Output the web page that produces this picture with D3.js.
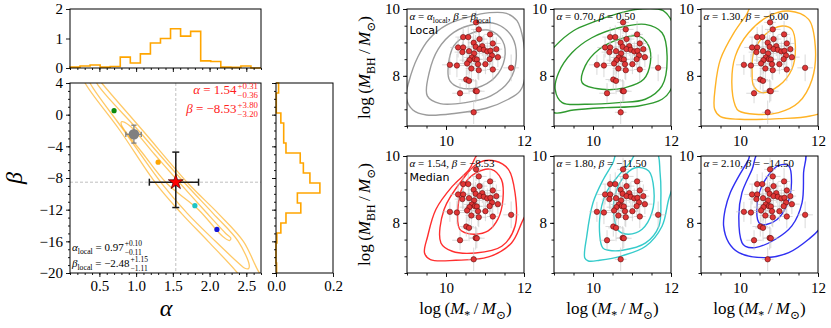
<!DOCTYPE html>
<html>
<head>
<meta charset="utf-8">
<script src="https://cdn.jsdelivr.net/npm/d3@7"></script>
<style>
  body { margin: 0; background: #fff; }
  svg { display: block; }
  svg text { font-family: "Liberation Serif", "DejaVu Serif", serif; }
</style>
</head>
<body>
<div id="chart"></div>
<script>
// ---- values ----

// marginal posteriors (step histograms, density)
const alphaRange = [0.1, 2.7];
const alphaHist = [0.03, 0.07, 0.10, 0.03, 0.05, 0.37, 0.17, 0.48, 0.85, 1.00, 1.33, 1.08, 1.24, 0.24, 0.22, 0.03, 0.02, 0.07, 0.00];
const betaRange = [-20, 4];
// from beta = -20 upwards
const betaHist = [0.002, 0.0, 0.0, 0.003, 0.017, 0.035, 0.087, 0.075, 0.154, 0.119, 0.096, 0.085, 0.035, 0.027, 0.027, 0.017, 0.001, 0.001, 0.009];

// models: local, four trial pairs and the median
const modelAlpha = [0.97, 0.70, 1.30, 1.54, 1.80, 2.10];
const modelBeta = [-2.48, 0.50, -6.00, -8.53, -11.50, -14.50];
const dotColors = ['#808080', '#0b8a0b', '#ffa500', '#ff0000', '#1fc4c4', '#1515d8'];
const lineColors = ['#9c9c9c', '#2f9a2f', '#ffb326', '#ff2e2e', '#35cbcb', '#2f2ff2'];
const modelTags = ['Local', '', '', 'Median', '', ''];

const localAlphaErr = [0.11, 0.10];   // [minus, plus]
const localBetaErr = [1.11, 1.15];
const medianAlphaErr = [0.36, 0.31];
const medianBetaErr = [3.20, 3.80];

// 2D posterior contours in the alpha-beta plane [alpha, beta]
const abInner = [[0.80, -0.9], [0.90, -1.3], [1.25, -5.0], [1.60, -8.7], [1.95, -12.3], [2.22, -15.0], [2.29, -15.6],
  [2.27, -15.9], [2.18, -15.4], [1.85, -12.0], [1.42, -8.7], [1.10, -5.0], [0.80, -1.3]];
const abMiddle = [[0.34, 5.0], [0.373, 4.0], [0.834, -2.0], [1.35, -8.7], [1.70, -12.5], [2.08, -16.0], [2.40, -18.8], [2.48, -19.4],
  [2.53, -19.45], [2.54, -19.0], [2.39, -16.0], [2.05, -12.5], [1.667, -8.7], [1.032, -2.0], [0.464, 4.0], [0.44, 5.0]];
const abOuter = [[0.22, 6.0], [0.305, 4.0], [0.78, -2.0], [1.27, -8.7], [1.62, -12.5], [1.98, -16.0], [2.38, -20.0], [2.45, -21.0],
  [2.78, -21.0], [2.68, -20.0], [2.46, -16.0], [2.12, -12.5], [1.71, -8.7], [1.09, -2.0], [0.532, 4.0], [0.45, 5.0]];

// observed sample: log M*, log MBH and their errors
const obsMstar = [10.77, 10.84, 11.13, 10.44, 10.57, 10.86, 10.71, 11.20, 10.31, 10.44, 10.76, 10.93, 10.86, 10.59, 10.42, 10.97, 11.06, 11.29, 11.14, 10.72, 11.18,
  11.33, 10.66, 11.12, 10.74, 10.60, 10.79, 10.54, 10.82, 11.01, 10.10, 10.28, 10.65, 10.84, 11.20, 10.52, 10.59, 10.76, 10.79, 10.36, 10.71, 11.67];
const obsMbh = [9.60, 9.39, 9.24, 9.16, 9.16, 9.10, 8.99, 8.97, 8.85, 8.85, 8.87, 8.89, 8.80, 8.74, 8.71, 8.78, 8.73, 8.80, 8.75, 8.67, 8.61,
  8.56, 8.55, 8.50, 8.50, 8.47, 8.49, 8.37, 8.35, 8.35, 8.33, 8.31, 8.22, 8.17, 8.19, 7.89, 7.85, 7.55, 7.54, 7.48, 6.91, 8.24];
const obsMstarErr = [0.15, 0.2, 0.15, 0.2, 0.15, 0.2, 0.15, 0.2, 0.2, 0.15, 0.25, 0.2, 0.15, 0.2, 0.2, 0.15, 0.2, 0.15, 0.25, 0.2, 0.15,
  0.2, 0.2, 0.15, 0.2, 0.25, 0.15, 0.2, 0.2, 0.15, 0.2, 0.2, 0.15, 0.2, 0.15, 0.2, 0.2, 0.15, 0.2, 0.2, 0.15, 0.2];
const obsMbhErr = [0.35, 0.3, 0.4, 0.3, 0.35, 0.3, 0.4, 0.35, 0.3, 0.45, 0.35, 0.3, 0.4, 0.35, 0.3, 0.45, 0.3, 0.35, 0.4, 0.3, 0.35,
  0.3, 0.4, 0.3, 0.35, 0.4, 0.3, 0.35, 0.45, 0.3, 0.3, 0.35, 0.4, 0.3, 0.35, 0.3, 0.4, 0.35, 0.3, 0.3, 0.35, 0.4];

// mock-population contours per panel [log M*, log MBH], inner to outer
const localContours = [
  [[10.05, 8.15], [10.2, 8.9], [10.6, 9.25], [11.1, 9.37], [11.45, 9.05], [11.5, 8.5], [11.25, 7.95], [10.8, 7.65], [10.35, 7.65], [10.1, 7.85]],
  [[9.52, 7.4], [9.57, 8.1], [9.8, 8.8], [10.2, 9.3], [10.75, 9.55], [11.3, 9.55], [11.7, 9.15], [11.8, 8.5], [11.62, 7.85], [11.15, 7.4], [10.5, 7.2], [9.85, 7.17]],
  [[9.05, 7.83], [9.28, 8.57], [9.58, 9.12], [10.01, 9.52], [10.61, 9.77], [11.12, 9.89], [11.55, 9.87], [11.82, 9.65], [11.99, 9.0], [12.03, 8.0],
    [11.9, 7.55], [11.6, 7.3], [11.03, 7.03], [10.26, 6.88], [9.5, 6.83], [9.15, 6.98], [8.98, 7.35]]
];
const greenContours = [
  [[9.72, 7.80], [9.80, 8.30], [10.15, 8.79], [10.66, 9.09], [11.17, 9.19], [11.43, 8.89], [11.47, 8.39], [11.30, 7.90], [10.83, 7.65], [10.23, 7.60]],
  [[9.03, 7.60], [9.12, 8.10], [9.46, 8.69], [9.97, 9.14], [10.66, 9.44], [11.34, 9.54], [11.77, 9.29], [11.90, 8.59], [11.77, 7.70], [11.34, 7.30],
    [10.66, 7.20], [9.80, 7.15], [9.21, 7.20]],
  [[8.85, 8.6], [9.03, 8.89], [9.5, 9.35], [9.97, 9.59], [10.57, 9.84], [11.2, 10.0], [11.8, 9.95], [12.1, 9.4], [12.15, 8.4], [12.0, 7.6], [11.77, 7.30],
    [11.17, 7.10], [10.32, 7.05], [9.5, 6.98], [9.0, 6.9], [8.8, 7.3]]
];
const orangeContours = [
  [[10.31, 8.10], [10.35, 8.69], [10.65, 9.24], [11.08, 9.49], [11.33, 9.39], [11.42, 8.89], [11.33, 8.20], [10.99, 7.70], [10.56, 7.50], [10.35, 7.70]],
  [[9.88, 7.10], [9.79, 7.80], [9.88, 8.59], [10.22, 9.29], [10.74, 9.79], [11.25, 9.94], [11.76, 9.69], [11.93, 8.89], [11.85, 7.90], [11.50, 7.20],
    [10.99, 6.90], [10.39, 6.85], [9.97, 6.95]],
  [[9.35, 7.0], [9.37, 7.7], [9.5, 8.5], [9.85, 9.3], [10.15, 9.8], [10.35, 10.15], [12.2, 10.15], [12.2, 7.0], [11.8, 6.8], [11.0, 6.72], [10.0, 6.7], [9.5, 6.78]]
];
const medianContours = [
  [[10.35, 7.81], [10.31, 8.50], [10.44, 9.10], [10.78, 9.50], [11.16, 9.60], [11.42, 9.30], [11.46, 8.70], [11.33, 8.11], [11.08, 7.76], [10.74, 7.66], [10.48, 7.71]],
  [[9.87, 7.40], [9.95, 8.40], [10.42, 9.29], [10.84, 9.8], [11.26, 9.85], [11.60, 9.6], [11.77, 8.90], [11.77, 7.90], [11.43, 7.30], [10.76, 7.10], [10.16, 7.15]],
  [[9.45, 7.1], [9.53, 7.6], [9.74, 8.4], [10.16, 9.09], [10.59, 9.59], [10.9, 10.15], [12.2, 10.15], [12.15, 8.6], [11.94, 8.0], [11.68, 7.40], [11.09, 6.98],
    [10.25, 6.88], [9.6, 6.9]]
];
const cyanContours = [
  [[10.57, 8.0], [10.53, 8.60], [10.74, 9.30], [11.09, 9.65], [11.43, 9.55], [11.56, 9.0], [11.51, 8.30], [11.26, 7.81], [10.91, 7.66], [10.66, 7.76]],
  [[10.25, 7.25], [10.17, 8.1], [10.34, 8.9], [10.68, 9.45], [10.95, 9.8], [11.15, 10.15], [11.62, 10.15], [11.72, 9.5], [11.74, 8.7], [11.69, 7.9],
    [11.35, 7.4], [10.76, 7.18], [10.4, 7.18]],
  [[9.79, 6.95], [9.84, 7.6], [10.0, 8.6], [10.26, 9.29], [10.51, 9.79], [10.65, 10.15], [12.2, 10.15], [12.1, 9.3], [11.94, 8.7], [11.77, 7.9], [11.35, 7.3],
    [10.76, 7.02], [10.17, 6.88], [9.88, 6.86]]
];
const blueContours = [
  [[10.45, 8.1], [10.47, 8.8], [10.71, 9.4], [11.0, 9.72], [11.25, 9.7], [11.32, 9.2], [11.21, 8.55], [10.95, 8.1], [10.68, 7.95], [10.52, 7.97]],
  [[10.05, 7.41], [9.97, 8.21], [10.05, 8.90], [10.31, 9.60], [10.5, 10.15], [11.65, 10.15], [11.63, 9.50], [11.59, 8.60], [11.33, 7.91], [10.91, 7.51],
    [10.39, 7.26], [10.14, 7.30]],
  [[9.62, 8.40], [9.58, 7.91], [9.71, 7.41], [9.97, 7.11], [10.65, 6.96], [11.25, 7.11], [11.76, 7.51], [12.05, 7.85], [12.2, 8.5], [12.2, 10.15],
    [10.3, 10.15], [10.22, 9.90], [9.97, 9.40], [9.75, 8.90]]
];
const panelContours = [localContours, greenContours, orangeContours, medianContours, cyanContours, blueContours];

// ---- drawing ----
const W = 831, H = 328;
const SANS = '"DejaVu Sans", sans-serif';
const TICK_FONT = 15;
const f2 = d3.format('.2f');

const svg = d3.select('#chart').append('svg')
  .attr('width', W).attr('height', H);

// axis helper: ticks only, the frame is drawn separately
function drawAxis(g, gen, scale, values, size, fmt, pad, fontSize) {
  g.call(gen(scale).tickValues(values).tickSize(size).tickSizeOuter(0)
    .tickPadding(pad).tickFormat(fmt || (() => '')));
  g.select('.domain').remove();
  g.attr('font-size', fontSize || TICK_FONT);
  g.selectAll('.tick line').attr('stroke', '#000').attr('stroke-width', 0.9);
  g.selectAll('.tick text').attr('fill', '#000');
}

// text with italic / sub / superscript runs
function richText(text, runs, size) {
  let shift = 0;
  runs.forEach(r => {
    const target = r.sub ? size * 0.28 : r.sup ? -size * 0.4 : 0;
    const ts = text.append('tspan').attr('dy', target - shift).text(r.t);
    shift = target;
    if (r.it) ts.attr('font-style', 'italic');
    if (r.sub || r.sup) ts.attr('font-size', size * 0.7);
  });
  return text;
}

// value with stacked +/- errors
function withScripts(parent, x, y, runs, sup, sub, size, color, alignEnd) {
  const grp = parent.append('g');
  const t = richText(grp.append('text').attr('x', 0).attr('y', 0)
    .attr('font-size', size).attr('fill', color), runs, size);
  const w = t.node().getComputedTextLength();
  const s1 = grp.append('text').attr('x', w + 1).attr('y', -size * 0.42)
    .attr('font-size', size * 0.68).attr('fill', color).text(sup);
  const s2 = grp.append('text').attr('x', w + 1).attr('y', size * 0.32)
    .attr('font-size', size * 0.68).attr('fill', color).text(sub);
  const sw = Math.max(s1.node().getComputedTextLength(), s2.node().getComputedTextLength());
  const total = w + 1 + sw;
  grp.attr('transform', `translate(${alignEnd ? x - total : x},${y})`);
}

function stepVertices(values, lo, hi) {
  const n = values.length, w = (hi - lo) / n;
  const pts = [[lo, 0]];
  values.forEach((v, i) => { pts.push([lo + i * w, v], [lo + (i + 1) * w, v]); });
  pts.push([hi, 0]);
  return pts;
}

function frame(x0, y0, x1, y1) {
  svg.append('rect').attr('x', x0).attr('y', y0).attr('width', x1 - x0).attr('height', y1 - y0)
    .attr('fill', 'none').attr('stroke', '#000').attr('stroke-width', 1);
}

// ---- left block: alpha-beta posterior ----
const xA = d3.scaleLinear().domain(alphaRange).range([70, 261]);
const yB = d3.scaleLinear().domain(betaRange).range([273, 83]);
const yHistA = d3.scaleLinear().domain([0, 2]).range([68, 9]);
const xHistB = d3.scaleLinear().domain([0, 0.2]).range([276, 333]);

const alphaMajor = [0.5, 1.0, 1.5, 2.0, 2.5];
const alphaMinor = xA.ticks(26);
const betaMajor = [-20, -16, -12, -8, -4, 0, 4];
const betaMinor = yB.ticks(24);

// top histogram
svg.append('path')
  .datum(stepVertices(alphaHist, alphaRange[0], alphaRange[1]))
  .attr('d', d3.line().x(d => xA(d[0])).y(d => yHistA(d[1])))
  .attr('fill', 'none').attr('stroke', '#ffa500').attr('stroke-width', 1.6);
drawAxis(svg.append('g').attr('transform', 'translate(0,68)'), d3.axisBottom, xA, alphaMinor, 2, null, 2);
drawAxis(svg.append('g').attr('transform', 'translate(0,68)'), d3.axisBottom, xA, alphaMajor, 4, null, 2);
drawAxis(svg.append('g').attr('transform', 'translate(70,0)'), d3.axisLeft, yHistA, [0, 1, 2], 4, d3.format('d'), 3);
frame(70, 9, 261, 68);

// right histogram
svg.append('path')
  .datum(stepVertices(betaHist, betaRange[0], betaRange[1]))
  .attr('d', d3.line().x(d => xHistB(d[1])).y(d => yB(d[0])))
  .attr('fill', 'none').attr('stroke', '#ffa500').attr('stroke-width', 1.6);
drawAxis(svg.append('g').attr('transform', 'translate(276,0)'), d3.axisLeft, yB, betaMinor, 2, null, 2);
drawAxis(svg.append('g').attr('transform', 'translate(276,0)'), d3.axisLeft, yB, betaMajor, 4, null, 2);
drawAxis(svg.append('g').attr('transform', 'translate(0,273)'), d3.axisBottom, xHistB, [0, 0.2], 4, d3.format('.1f'), 3);
frame(276, 83, 333, 273);

// main alpha-beta panel
svg.append('clipPath').attr('id', 'clip-ab')
  .append('rect').attr('x', 70).attr('y', 83).attr('width', 191).attr('height', 190);
const main = svg.append('g').attr('clip-path', 'url(#clip-ab)');

const med = 3, loc = 0;
main.append('line')
  .attr('x1', xA(modelAlpha[med])).attr('x2', xA(modelAlpha[med])).attr('y1', 83).attr('y2', 273)
  .attr('stroke', '#b0b0b0').attr('stroke-width', 0.8).attr('stroke-dasharray', '3,2');
main.append('line')
  .attr('x1', 70).attr('x2', 261).attr('y1', yB(modelBeta[med])).attr('y2', yB(modelBeta[med]))
  .attr('stroke', '#b0b0b0').attr('stroke-width', 0.8).attr('stroke-dasharray', '3,2');

const abLine = d3.line().x(d => xA(d[0])).y(d => yB(d[1])).curve(d3.curveCatmullRomClosed.alpha(0.5));
main.selectAll('path.ab').data([abOuter, abMiddle, abInner]).join('path')
  .attr('class', 'ab')
  .attr('d', abLine)
  .attr('fill', 'none').attr('stroke', '#ffa500').attr('stroke-opacity', 0.6).attr('stroke-width', 1.3);

// trial models as small dots
main.selectAll('circle.trial').data([1, 2, 4, 5]).join('circle')
  .attr('class', 'trial')
  .attr('cx', i => xA(modelAlpha[i])).attr('cy', i => yB(modelBeta[i]))
  .attr('r', 2.6).attr('fill', i => dotColors[i]);

function errorCross(g, i, aErr, bErr, color, width, cap) {
  const cx = xA(modelAlpha[i]), cy = yB(modelBeta[i]);
  const xl = xA(modelAlpha[i] - aErr[0]), xr = xA(modelAlpha[i] + aErr[1]);
  const yb = yB(modelBeta[i] - bErr[0]), yt = yB(modelBeta[i] + bErr[1]);
  const segs = [[xl, cy, xr, cy], [cx, yb, cx, yt],
    [xl, cy - cap, xl, cy + cap], [xr, cy - cap, xr, cy + cap],
    [cx - cap, yb, cx + cap, yb], [cx - cap, yt, cx + cap, yt]];
  g.selectAll(null).data(segs).join('line')
    .attr('x1', d => d[0]).attr('y1', d => d[1]).attr('x2', d => d[2]).attr('y2', d => d[3])
    .attr('stroke', color).attr('stroke-width', width);
}

// local relation with errors
errorCross(main, loc, localAlphaErr, localBetaErr, '#808080', 1.3, 2.6);
main.append('circle').attr('cx', xA(modelAlpha[loc])).attr('cy', yB(modelBeta[loc]))
  .attr('r', 5.3).attr('fill', dotColors[loc]);

// median with errors
errorCross(main, med, medianAlphaErr, medianBetaErr, '#1a1a1a', 1.5, 3.5);
main.append('path')
  .attr('d', d3.symbol().type(d3.symbolStar).size(70))
  .attr('transform', `translate(${xA(modelAlpha[med])},${yB(modelBeta[med])})`)
  .attr('fill', dotColors[med]).attr('stroke', '#400').attr('stroke-width', 0.7);

drawAxis(svg.append('g').attr('transform', 'translate(0,273)'), d3.axisBottom, xA, alphaMinor, 2, null, 2);
drawAxis(svg.append('g').attr('transform', 'translate(0,273)'), d3.axisBottom, xA, alphaMajor, 4, d3.format('.1f'), 3);
drawAxis(svg.append('g').attr('transform', 'translate(70,0)'), d3.axisLeft, yB, betaMinor, 2, null, 2);
drawAxis(svg.append('g').attr('transform', 'translate(70,0)'), d3.axisLeft, yB, betaMajor, 4, d3.format('d'), 3);
frame(70, 83, 261, 273);

// annotations
const red = '#ff2020';
withScripts(svg, 258, 94, [{ t: 'α', it: true }, { t: ' = ' + f2(modelAlpha[med]) }],
  '+' + f2(medianAlphaErr[1]), '−' + f2(medianAlphaErr[0]), 13, red, true);
withScripts(svg, 258, 113, [{ t: 'β', it: true }, { t: ' = ' + f2(modelBeta[med]) }],
  '+' + f2(medianBetaErr[1]), '−' + f2(medianBetaErr[0]), 13, red, true);
withScripts(svg, 72, 251, [{ t: 'α', it: true }, { t: 'local', sub: true }, { t: ' = ' + f2(modelAlpha[loc]) }],
  '+' + f2(localAlphaErr[1]), '−' + f2(localAlphaErr[0]), 11, '#000', false);
withScripts(svg, 72, 267, [{ t: 'β', it: true }, { t: 'local', sub: true }, { t: ' = ' + f2(modelBeta[loc]) }],
  '+' + f2(localBetaErr[1]), '−' + f2(localBetaErr[0]), 11, '#000', false);

svg.append('text').attr('x', 166).attr('y', 316).attr('text-anchor', 'middle')
  .attr('font-size', 24).attr('font-style', 'italic').text('α');
svg.append('text').attr('transform', 'translate(22,178) rotate(-90)').attr('text-anchor', 'middle')
  .attr('font-size', 24).attr('font-style', 'italic').text('β');

// ---- right block: M_BH - M* panels ----
const panelX = [407, 554, 701];
const panelY = [9, 156];
const PS = 117;
const mstarMinor = [9, 9.5, 10, 10.5, 11, 11.5, 12];
const mbhMinor = [6.5, 7, 7.5, 8, 8.5, 9, 9.5, 10];

modelAlpha.forEach((a, i) => {
  const x0 = panelX[i % 3], y0 = panelY[Math.floor(i / 3)];
  const xM = d3.scaleLinear().domain([9, 12]).range([x0, x0 + PS]);
  const yM = d3.scaleLinear().domain([6.5, 10]).range([y0 + PS, y0]);

  svg.append('clipPath').attr('id', 'clip-p' + i)
    .append('rect').attr('x', x0).attr('y', y0).attr('width', PS).attr('height', PS);
  const g = svg.append('g').attr('clip-path', `url(#clip-p${i})`);

  const cLine = d3.line().x(d => xM(d[0])).y(d => yM(d[1])).curve(d3.curveCatmullRomClosed.alpha(0.5));
  g.selectAll('path.c').data(panelContours[i]).join('path')
    .attr('class', 'c').attr('d', cLine)
    .attr('fill', 'none').attr('stroke', lineColors[i]).attr('stroke-width', 1.4);

  const idx = d3.range(obsMstar.length);
  g.selectAll('line.ex').data(idx).join('line').attr('class', 'ex')
    .attr('x1', k => xM(obsMstar[k] - obsMstarErr[k])).attr('x2', k => xM(obsMstar[k] + obsMstarErr[k]))
    .attr('y1', k => yM(obsMbh[k])).attr('y2', k => yM(obsMbh[k]))
    .attr('stroke', '#c4c4c4').attr('stroke-opacity', 0.65).attr('stroke-width', 1);
  g.selectAll('line.ey').data(idx).join('line').attr('class', 'ey')
    .attr('x1', k => xM(obsMstar[k])).attr('x2', k => xM(obsMstar[k]))
    .attr('y1', k => yM(obsMbh[k] - obsMbhErr[k])).attr('y2', k => yM(obsMbh[k] + obsMbhErr[k]))
    .attr('stroke', '#c4c4c4').attr('stroke-opacity', 0.65).attr('stroke-width', 1);
  g.selectAll('circle.obs').data(idx).join('circle').attr('class', 'obs')
    .attr('cx', k => xM(obsMstar[k])).attr('cy', k => yM(obsMbh[k]))
    .attr('r', 2.7).attr('fill', '#e03636').attr('stroke', '#5e0c0c').attr('stroke-width', 0.6);

  // panel label
  const runs = i === 0
    ? [{ t: 'α', it: true }, { t: ' = ' }, { t: 'α', it: true }, { t: 'local', sub: true }, { t: ', ' },
       { t: 'β', it: true }, { t: ' = ' }, { t: 'β', it: true }, { t: 'local', sub: true }]
    : [{ t: 'α', it: true }, { t: ' = ' + f2(a) + ', ' }, { t: 'β', it: true }, { t: ' = ' + f2(modelBeta[i]) }];
  richText(svg.append('text').attr('x', x0 + 2.5).attr('y', y0 + 10.5).attr('font-size', 11), runs, 11);
  if (modelTags[i]) {
    svg.append('text').attr('x', x0 + 2.5).attr('y', y0 + 24.5)
      .style('font-family', SANS).attr('font-size', 11).text(modelTags[i]);
  }

  drawAxis(svg.append('g').attr('transform', `translate(0,${y0 + PS})`), d3.axisBottom, xM, mstarMinor, 2.5, null, 2);
  drawAxis(svg.append('g').attr('transform', `translate(0,${y0 + PS})`), d3.axisBottom, xM, [10, 12], 4, d3.format('d'), 5);
  drawAxis(svg.append('g').attr('transform', `translate(${x0},0)`), d3.axisLeft, yM, mbhMinor, 2.5, null, 2);
  drawAxis(svg.append('g').attr('transform', `translate(${x0},0)`), d3.axisLeft, yM, [8, 10], 4, d3.format('d'), 3);
  frame(x0, y0, x0 + PS, y0 + PS);

  if (i % 3 === 0) {
    richText(svg.append('text').attr('transform', `translate(370,${y0 + PS / 2}) rotate(-90)`)
      .attr('text-anchor', 'middle').attr('font-size', 17),
      [{ t: 'log\u2009(' }, { t: 'M', it: true }, { t: 'BH', sub: true }, { t: '\u2009/\u2009' },
       { t: 'M', it: true }, { t: '⊙', sub: true }, { t: ')' }], 17);
  }
  if (i >= 3) {
    richText(svg.append('text').attr('x', x0 + PS / 2).attr('y', 314)
      .attr('text-anchor', 'middle').attr('font-size', 17),
      [{ t: 'log\u2009(' }, { t: 'M', it: true }, { t: '*', sub: true }, { t: '\u2009/\u2009' },
       { t: 'M', it: true }, { t: '⊙', sub: true }, { t: ')' }], 17);
  }
});
</script>
</body>
</html>
